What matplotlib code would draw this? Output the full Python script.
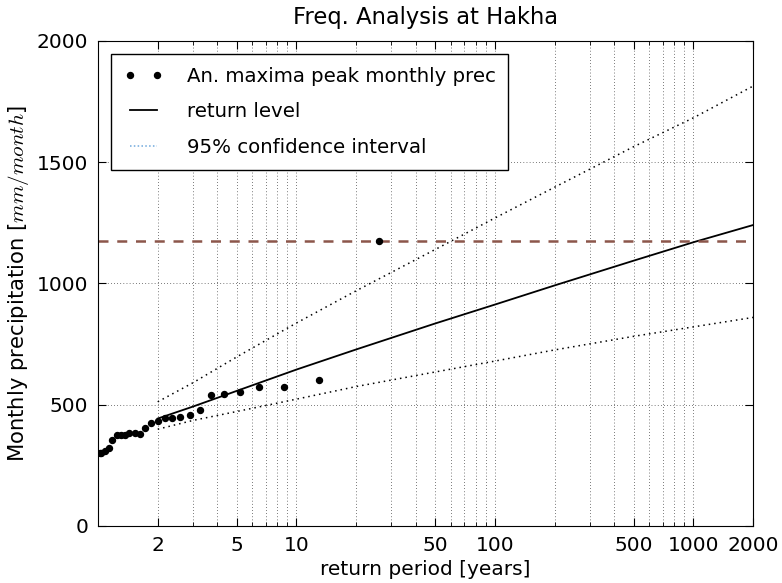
"""
Frequency analysis plot of annual maximum monthly precipitation at Hakha.
"""

import matplotlib
matplotlib.use("Agg")
import matplotlib.pyplot as plt
from matplotlib.lines import Line2D

# annual maxima (return period [years], precip [mm/month])
obs_T = [26, 13, 8.7, 6.5, 5.2, 4.3, 3.7, 3.25, 2.9, 2.6, 2.35, 2.17, 2.0,
         1.86, 1.73, 1.63, 1.53, 1.44, 1.37, 1.3, 1.24, 1.18, 1.13, 1.08,
         1.04, 1.02]
obs_prec = [1176, 602, 574, 573, 552, 544, 539, 477, 456, 448, 445, 445, 434,
            425, 405, 380, 382, 382, 374, 374, 374, 354, 320, 310, 302, 300]

# fitted return level and 95% confidence band
fit_T = [2, 3, 5, 10, 20, 50, 100, 200, 500, 1000, 2000]
ret_level = [443, 492, 557, 645, 728, 835, 913, 992, 1094, 1170, 1241]
ci_upper = [512, 590, 697, 837, 970, 1140, 1270, 1397, 1564, 1683, 1814]
ci_lower = [399, 435, 472, 523, 575, 635, 680, 726, 782, 821, 860]

max_obs = 1176

xticks = [2, 5, 10, 50, 100, 500, 1000, 2000]
yticks = [0, 500, 1000, 1500, 2000]

plt.rcParams['mathtext.fontset'] = 'cm'
plt.rcParams['font.size'] = 14.5

fig = plt.figure(figsize=(7.82, 5.83), dpi=100)
ax = fig.add_axes([0.1253, 0.0978, 0.8377, 0.8319])

ax.plot(obs_T, obs_prec, 'o', color='k', markersize=4.3, zorder=5)
ax.plot(fit_T, ret_level, '-', color='k', lw=1.3)
ax.plot(fit_T, ci_upper, color='k', lw=1.1, linestyle=(0, (1, 2.6)))
ax.plot(fit_T, ci_lower, color='k', lw=1.1, linestyle=(0, (1, 2.6)))
ax.axhline(max_obs, color='#8c564b', lw=1.8, linestyle=(0, (4, 3.5)))

ax.set_xscale('log')
ax.set_xlim(1, 2000)
ax.set_ylim(0, 2000)
ax.set_xticks(xticks)
ax.set_xticklabels([str(t) for t in xticks])
ax.set_yticks(yticks)

ax.tick_params(which='both', direction='in', top=True, right=True, pad=7,
               labelsize=14.5)
ax.tick_params(which='major', length=6)
ax.tick_params(which='minor', length=3)
ax.grid(True, which='both', color='k', linestyle=(0, (1, 3.5)), lw=0.5)

ax.set_xlabel('return period [years]', fontsize=14.5, labelpad=4)
ax.set_ylabel('Monthly precipitation [$mm/month$]', fontsize=15.2)
ax.set_title('Freq. Analysis at Hakha', fontsize=16.3, pad=12)

handles = [
    Line2D([], [], marker='o', color='k', markersize=4.3, linestyle='none'),
    Line2D([], [], color='k', lw=1.3),
    Line2D([], [], color='#6fa8dc', lw=1.1, linestyle=(0, (1, 1.5))),
]
labels = ['An. maxima peak monthly prec', 'return level',
          '95% confidence interval']
leg = ax.legend(handles, labels, loc='upper left', numpoints=2, fontsize=14.2,
                fancybox=False, framealpha=1, edgecolor='k',
                borderaxespad=0.65, borderpad=0.65, handlelength=2.0,
                handletextpad=1.2, labelspacing=0.85)
leg.get_frame().set_linewidth(1.0)

fig.savefig('out.png', dpi=100)
